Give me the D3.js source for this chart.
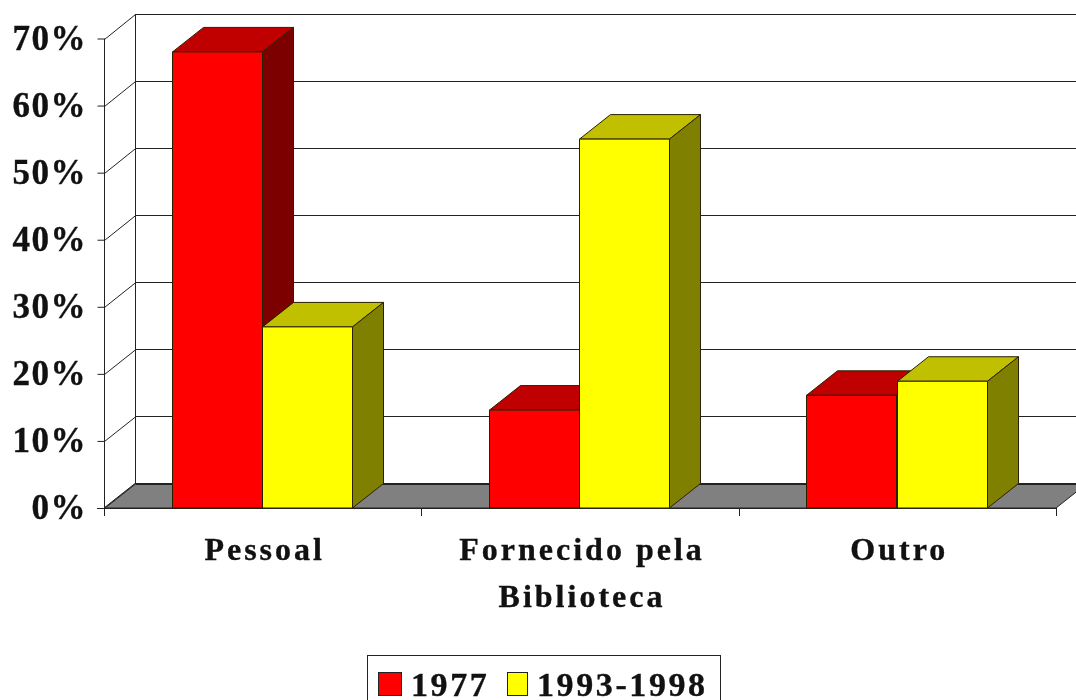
<!DOCTYPE html>
<html><head><meta charset="utf-8">
<script src="https://cdn.jsdelivr.net/npm/d3@7"></script>
<style>
html,body{margin:0;padding:0;background:#fff;overflow:hidden}
svg{filter:blur(0.4px)}
text{font-family:"Liberation Serif",serif;font-weight:700;fill:#111;stroke:#111;stroke-width:.35px}
</style></head><body><div id="c"></div>
<script>
const categories = ["Pessoal", "Fornecido pela|Biblioteca", "Outro"];
const seriesNames = ["1977", "1993-1998"];
const values1977 = [68, 14.6, 16.8];
const values1993 = [27, 55, 18.9];
const yTicks = [0, 10, 20, 30, 40, 50, 60, 70];
const colors = {
  "1977": {front:"#ff0000", top:"#c00000", side:"#7c0000"},
  "1993-1998": {front:"#ffff00", top:"#c0c000", side:"#808000"}
};

const W = 1076, H = 700;
const svg = d3.select("#c").append("svg").attr("width", W).attr("height", H).style("display","block");
const dx = 31, dy = -24.5;
const line = "#222";

const y = d3.scaleLinear().domain([0, 70]).range([508, 38.5]);
const x = d3.scaleBand().domain(categories).range([104, 1056]);
const x1 = d3.scaleBand().domain(seriesNames).range([-0.7, x.bandwidth()-0.7]).paddingOuter(0.76);

// floor
svg.append("polygon")
  .attr("points", [[x.range()[0], y(0)], [x.range()[0]+dx, y(0)+dy], [x.range()[1]+dx, y(0)+dy], [x.range()[1], y(0)]].join(" "))
  .attr("fill", "#808080").attr("stroke", line);

// back wall gridlines and side wall diagonals
const gridG = svg.append("g").attr("fill","none").attr("stroke",line).attr("stroke-width",1);
yTicks.forEach(t => {
  const yy = Math.round(y(t)) + 0.5;
  gridG.append("line").attr("x1",x.range()[0]+dx+.5).attr("x2",W).attr("y1",Math.round(y(t)+dy)+.5).attr("y2",Math.round(y(t)+dy)+.5);
  gridG.append("line").attr("x1",x.range()[0]+.5).attr("x2",x.range()[0]+dx+.5).attr("y1",yy).attr("y2",y(t)+dy+.5);
});
gridG.append("line").attr("x1",x.range()[0]+dx+.5).attr("x2",x.range()[0]+dx+.5).attr("y1",y(70)+dy).attr("y2",y(0)+dy);

// left axis
const yAxis = d3.axisLeft(y).tickValues(yTicks).tickSize(7).tickFormat(d => d + "%");
const gy = svg.append("g").attr("transform",`translate(${x.range()[0]+.5},0)`).call(yAxis);
gy.select(".domain").attr("stroke",line).attr("d",`M0,${y(70)}V${y(0)}`);
gy.selectAll(".tick line").attr("stroke",line);
gy.selectAll(".tick text")
  .attr("x",-17.5).attr("dy","0.3em")
  .style("font-size","35px").style("letter-spacing","1.5px")
  .style("font-family",'"Liberation Serif",serif').style("font-weight","700")
  .attr("fill","#111").attr("text-anchor","end");

// bottom axis
const bottom = svg.append("g").attr("fill","none").attr("stroke",line);
bottom.append("line").attr("x1",x.range()[0]-7).attr("x2",x.range()[1]).attr("y1",y(0)+.5).attr("y2",y(0)+.5);
const tickXs = categories.map(c => x(c)).concat(x.range()[1]);
bottom.selectAll("line.t").data(tickXs).join("line").attr("class","t")
  .attr("x1",d=>Math.round(d)+.5).attr("x2",d=>Math.round(d)+.5).attr("y1",y(0)).attr("y2",y(0)+8);

// bars
const rows = [];
categories.forEach((c,i) => {
  rows.push({cat:c, s:seriesNames[0], v:values1977[i]});
  rows.push({cat:c, s:seriesNames[1], v:values1993[i]});
});
const bars = svg.append("g").selectAll("g").data(rows).join("g")
  .attr("stroke","#2a2000").attr("stroke-width",1).attr("stroke-linejoin","round");
const X0 = d => Math.round(x(d.cat)+x1(d.s))+.5;
const X1 = d => X0(d)+Math.round(x1.bandwidth());
bars.append("polygon").attr("fill",d=>colors[d.s].top)
  .attr("points",d=>[[X0(d),y(d.v)],[X0(d)+dx,y(d.v)+dy],[X1(d)+dx,y(d.v)+dy],[X1(d),y(d.v)]].join(" "));
bars.append("polygon").attr("fill",d=>colors[d.s].side)
  .attr("points",d=>[[X1(d),y(d.v)],[X1(d)+dx,y(d.v)+dy],[X1(d)+dx,y(0)+dy],[X1(d),y(0)]].join(" "));
bars.append("rect").attr("fill",d=>colors[d.s].front)
  .attr("x",X0).attr("y",d=>y(d.v)).attr("width",d=>X1(d)-X0(d)).attr("height",d=>y(0)-y(d.v));

// category labels
const catG = svg.append("g").attr("text-anchor","middle").style("font-size","32px").style("letter-spacing","3px");
categories.forEach(c => {
  c.split("|").forEach((s,i) => {
    catG.append("text").attr("x",x(c)+x.bandwidth()/2 + 2).attr("y",560+i*47).text(s);
  });
});

// legend
const lg = svg.append("g");
lg.append("rect").attr("x",367.5).attr("y",655.5).attr("width",353).attr("height",50).attr("fill","#fff").attr("stroke",line);
const legendX = [378, 507], legendTextX = [411, 537];
seriesNames.forEach((s,i) => {
  lg.append("rect").attr("x",legendX[i]+.5).attr("y",672.5).attr("width",i?20:23).attr("height",23)
    .attr("fill",colors[s].front).attr("stroke","#222");
  lg.append("text").attr("x",legendTextX[i]).attr("y",696).style("font-size","34px").style("letter-spacing","2.6px").text(s);
});
</script></body></html>
